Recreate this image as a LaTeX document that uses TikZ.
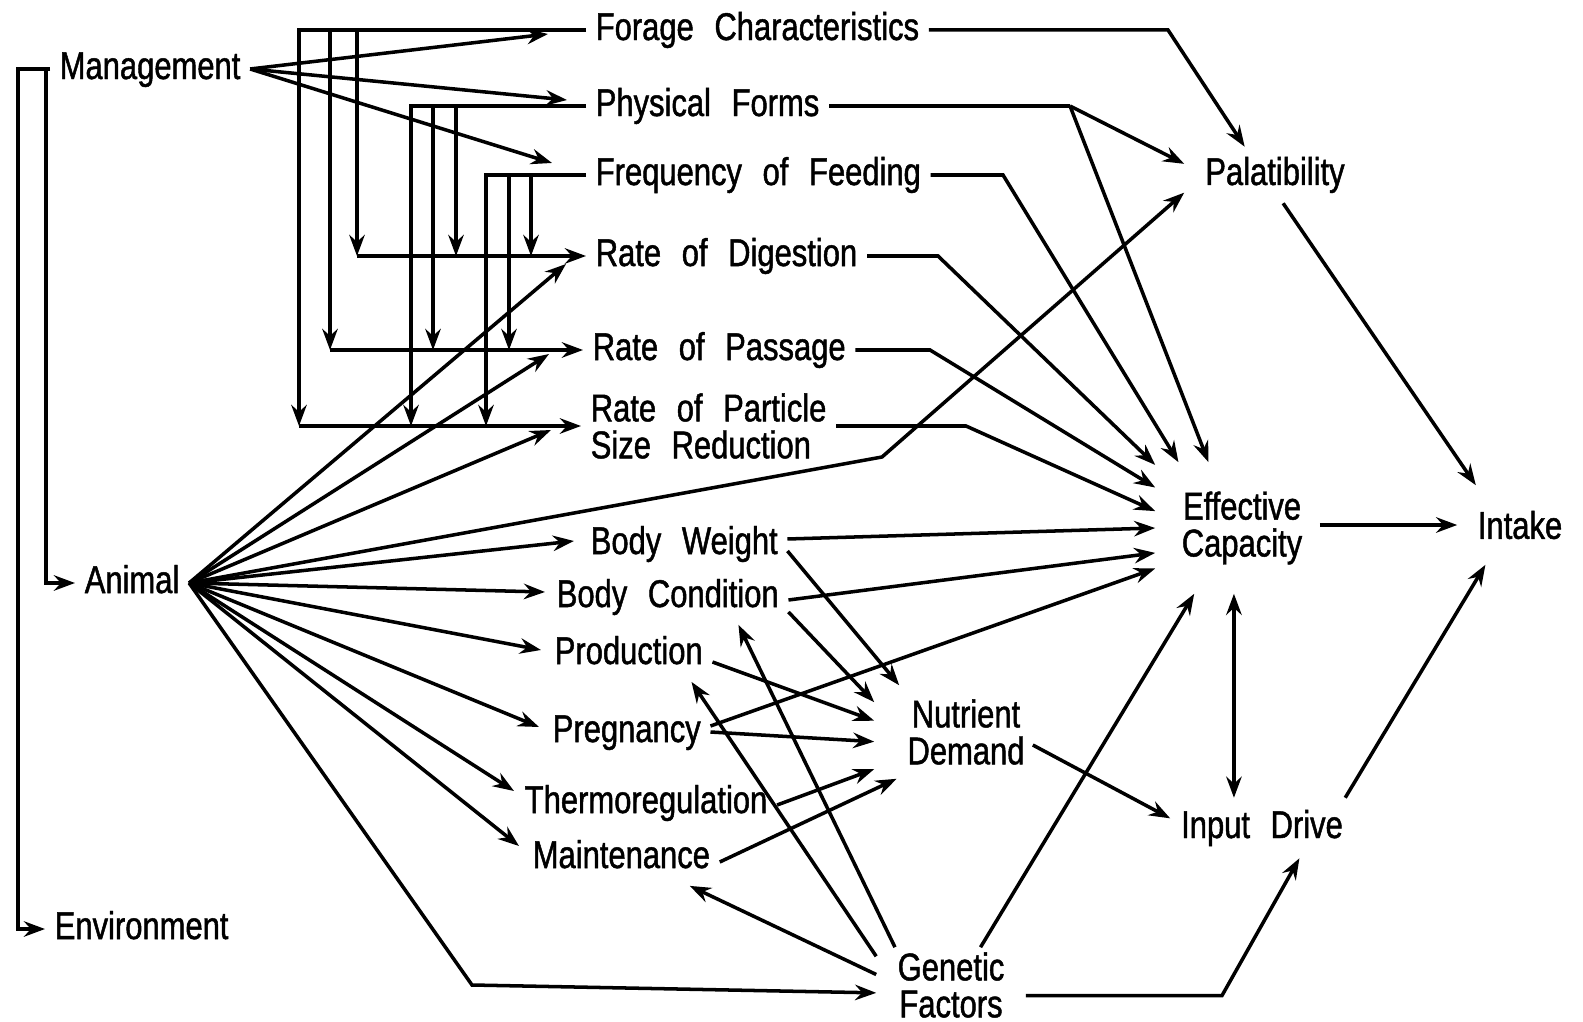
\documentclass[tikz,border=0pt]{standalone}
\usepackage{fontspec}
\setmainfont{Liberation Sans}[FakeStretch=0.8,WordSpace=2.4,FakeBold=1.2]
\usetikzlibrary{arrows.meta}

\begin{document}
\begin{tikzpicture}[x=0.01cm, y=-0.01cm, line width=1pt,
    arr/.style={-{Stealth[length=6pt,width=4.4pt,inset=2pt]}},
    dbl/.style={{Stealth[length=6pt,width=4.4pt,inset=2pt]}-{Stealth[length=6pt,width=4.4pt,inset=2pt]}},
    lab/.style={font=\fontsize{11}{10.5}\selectfont, inner sep=0.08cm, anchor=west, text height=8pt, text depth=2.3pt},
    hub/.style={font=\fontsize{11}{10.5}\selectfont, inner sep=0pt, align=center}]
  \useasboundingbox (0,0) rectangle (1583,1022);

  \node[lab] (man) at (50,69) {Management};
  \node[lab] (ani) at (75,583) {Animal};
  \node[lab] (env) at (45,929) {Environment};
  \node[lab] (forage) at (586,30) {Forage Characteristics};
  \node[lab] (phys) at (586,106) {Physical Forms};
  \node[lab] (freq) at (586,175) {Frequency of Feeding};
  \node[lab] (dig) at (586,256) {Rate of Digestion};
  \node[lab] (pas) at (583,350) {Rate of Passage};
  \node[lab, text height=, text depth=, align=left] (part) at (581,426) {Rate of Particle\\Size Reduction};
  \node[lab] (bw) at (581,544) {Body Weight};
  \node[lab] (bc) at (547,597) {Body Condition};
  \node[lab] (prod) at (545,654) {Production};
  \node[lab] (preg) at (543,732) {Pregnancy};
  \node[lab] (thermo) at (515,803) {Thermoregulation};
  \node[lab] (maint) at (523,858) {Maintenance};

  \node[hub, minimum width=1.78cm, minimum height=0.53cm] (pal) at (1275,175) {Palatibility};
  \node[hub, minimum width=1.7cm, minimum height=1.28cm] (eff) at (1242,528) {Effective\\Capacity};
  \node[hub, minimum width=1.22cm, minimum height=0.76cm] (intake) at (1520,525) {Intake};
  \node[hub, minimum width=1.8cm, minimum height=0.9cm] (nd) at (966,732) {Nutrient\\Demand};
  \node[hub, minimum width=1.8cm, minimum height=0.57cm] (inp) at (1262,828) {Input Drive};
  \node[hub, minimum width=1.46cm, minimum height=0.72cm] (gen) at (951,985) {Genetic\\Factors};

  \coordinate (brE) at (18,0);
  \coordinate (brA) at (46,0);

  % management side
  \draw[arr] (man.west) -- (brE |- man.west) |- (env.west);
  \draw[arr] (brA |- man.west) |- (ani.west);
  \draw[arr] (man.east) -- ([shift={(-38,4)}]forage.west);
  \draw[arr] (man.east) -- ([shift={(-19,-6)}]phys.west);
  \draw[arr] (man.east) -- ([shift={(-34,-12)}]freq.west);

  \foreach \src/\xp/\xr/\xd in {forage/299/330/357, phys/411/433/456, freq/486/509/531}{
    \draw[arr] (\src.west) -| (\xp,0 |- part.west);
    \draw[arr] (\xr,0 |- \src.west) -- (\xr,0 |- pas.west);
    \draw[arr] (\xd,0 |- \src.west) -- (\xd,0 |- dig.west);
  }
  \draw[arr] (357,0 |- dig.west) -- (dig.west);
  \draw[arr] (330,0 |- pas.west) -- (pas.west);
  \draw[arr] (299,0 |- part.west) -- (part.west);

  % animal fan
  \begin{scope}[every edge/.style={draw, arr}]
    \foreach \dst/\dx/\dy in {dig/-20/8, pas/-34/4, part/-30/4, bw/-7/-3, bc/-2/-5,
        prod/-4/-4, preg/-4/-5, thermo/-1/-12, maint/-4/-12}
      \path (ani.east) edge ([shift={(\dx,\dy)}]\dst.west);
  \end{scope}
  \draw[arr] (ani.east) -- (882,457) -- (pal.191);
  \draw[arr] (ani.east) -- (472,985) -- (gen.186);

  % feed side
  \draw[arr] (forage.east) -- (1168,0 |- forage.east) -- (pal.137);
  \draw (phys.east) -- (1070,0 |- phys.east) coordinate (pf);
  \draw[arr] (pf) -- (pal.173);
  \draw[arr] (pf) -- (eff.117);
  \draw[arr] (freq.east) -- (1003,0 |- freq.east) -- (eff.134);
  \draw[arr] (dig.east) -- (938,0 |- dig.east) -- (eff.144);
  \draw[arr] (pas.east) -- (930,0 |- pas.east) -- (eff.155);
  \draw[arr] (part.east) -- (966,0 |- part.east) -- (eff.169);

  % animal side
  \begin{scope}[every edge/.style={draw, arr}]
    \path ([shift={(0,-5)}]bw.east) edge (eff.180)
          ([shift={(0,3)}]bc.east) edge (eff.196)
          ([shift={(0,-6)}]preg.east) edge (eff.205)
          ([shift={(0,7)}]bw.east) edge (nd.145)
          ([shift={(0,15)}]bc.east) edge (nd.162)
          ([shift={(0,8)}]prod.east) edge (nd.173)
          (preg.east) edge (nd.186)
          ([shift={(0,2)}]thermo.east) edge (nd.202)
          ([shift={(0,4)}]maint.east) edge (nd.214)
          (gen.146) edge ([shift={(-50,0)}]bc.south east)
          (gen.159) edge ([shift={(-21,0)}]prod.south east)
          (gen.172) edge ([shift={(-30,0)}]maint.south east)
          (gen.52) edge (eff.234)
          ([shift={(-25,13)}]nd.east) edge (inp.174)
          ([shift={(-9,-3)}]eff.east) edge (intake.west)
          (pal.-74) edge (intake.138)
          (inp.20) edge (intake.229);
  \end{scope}
  \draw[dbl] (eff.263) -- (eff.263 |- inp.north);
  \draw[arr] (gen.-8) -- (1222,0 |- gen.-8) -- (inp.-39);
\end{tikzpicture}
\end{document}
